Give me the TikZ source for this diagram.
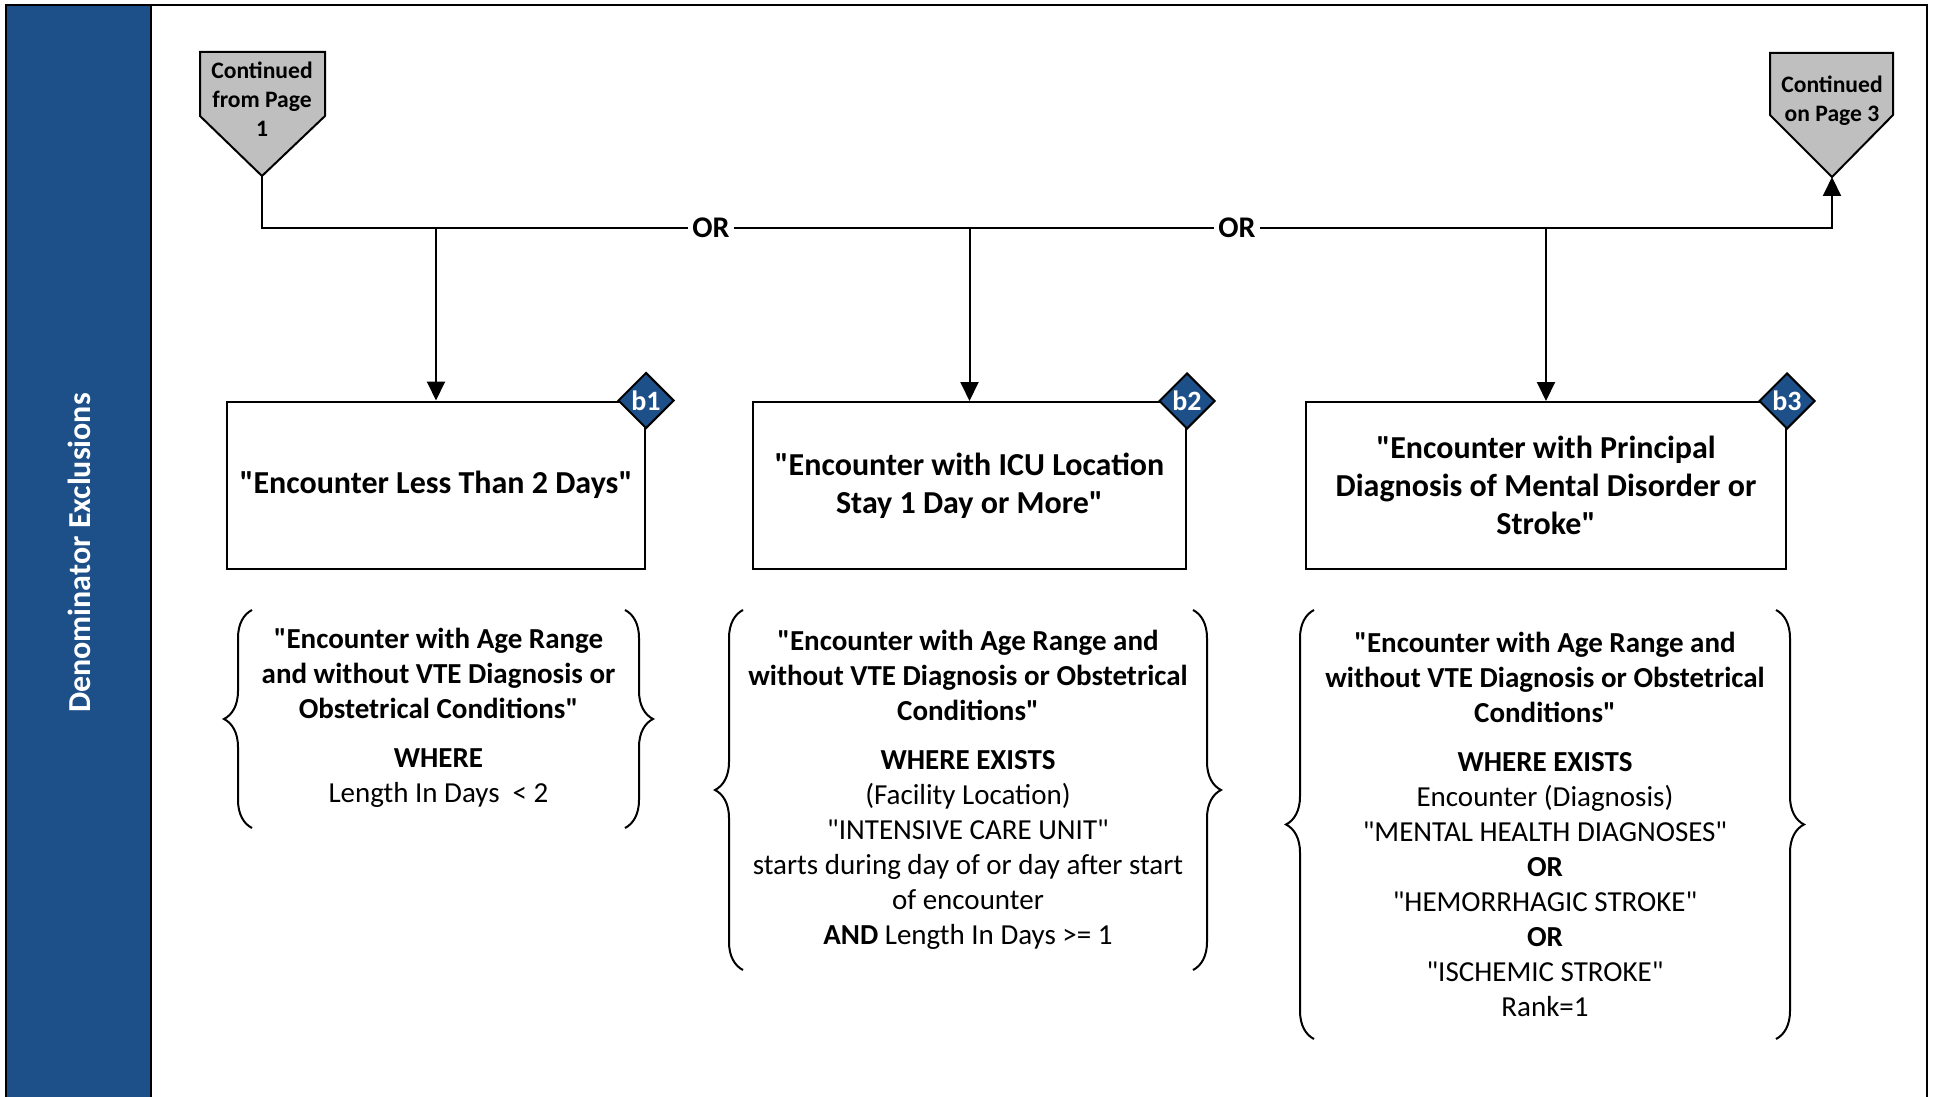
\documentclass[tikz,border=0pt]{standalone}
\usepackage{fontspec}
\setmainfont{Carlito}[Ligatures=TeXOff]
\usetikzlibrary{shapes.geometric, arrows.meta, decorations.pathreplacing, positioning}
\definecolor{bandblue}{RGB}{29,79,137}
\definecolor{pagegray}{RGB}{191,191,191}

\begin{document}
\begin{tikzpicture}[x=0.5pt, y=-0.5pt, line width=1pt,
  box/.style={draw, rectangle, align=center, minimum height=83.5pt, font=\fontsize{16}{19}\selectfont\bfseries},
  tag/.style={draw, diamond, fill=bandblue, text=white, inner sep=0pt, minimum width=28pt, minimum height=28pt, font=\fontsize{14}{14}\selectfont\bfseries},
  crit/.style={align=center, font=\fontsize{14.5}{17.5}\selectfont},
  pagetext/.style={align=center, font=\fontsize{11.8}{14.5}\selectfont\bfseries},
  orlabel/.style={fill=white, inner sep=1.5pt, font=\fontsize{15}{18}\selectfont\bfseries},
  arrow/.style={-{Triangle[length=9.5pt, width=9pt]}},
  curly/.style={decorate, decoration={brace, amplitude=14pt}}]
  \useasboundingbox (0,0) rectangle (1935,1097);

  % side band and frame
  \fill[bandblue] (6,5) rectangle (151,1100);
  \draw (6,1100) -- (6,5) -- (1927,5) -- (1927,1100);
  \draw (151,5) -- (151,1100);
  \node[rotate=90, text=white, font=\fontsize{16}{19}\selectfont\bfseries] (title) at (79,553) {Denominator Exclusions};

  % off-page connectors
  \draw[fill=pagegray] (200,52) -- (325,52) -- (325,116) -- (262,176) -- (200,116) -- cycle;
  \coordinate (from1) at (262,176);
  \node[pagetext] (fromtext) at (262,99) {Continued\\from Page\\1};
  \draw[fill=pagegray] (1770,53) -- (1893,53) -- (1893,115) -- (1832,177) -- (1770,115) -- cycle;
  \coordinate (to3) at (1832,177);
  \node[pagetext] (totext) at (1832,101) {Continued\\on Page 3};

  % exclusion boxes
  \node[box, minimum width=209pt] (enc1) at (436,485) {"Encounter Less Than 2 Days"};
  \node[box, minimum width=216.5pt] (enc2) at (969.5,485.5) {"Encounter with ICU Location\\Stay 1 Day or More"};
  \node[box, minimum width=240pt] (enc3) at (1546,485.5) {"Encounter with Principal\\Diagnosis of Mental Disorder or\\Stroke"};
  \node[tag] (tag1) at (enc1.north east) {b1};
  \node[tag] (tag2) at (enc2.north east) {b2};
  \node[tag] (tag3) at (enc3.north east) {b3};

  % OR bus
  \node[orlabel] (or1) at (711,228) {OR};
  \node[orlabel] (or2) at (1237,228) {OR};
  \draw (from1) |- (or1);
  \draw (or1) -- (or2);
  \draw[arrow] (or2) -| (to3);
  \draw[arrow] (enc1.north |- or1) -- (enc1.north);
  \draw[arrow] (enc2.north |- or1) -- (enc2.north);
  \draw[arrow] (enc3.north |- or1) -- (enc3.north);

  % criteria
  \node[crit] (cond1) at (438.5,718) {\textbf{"Encounter with Age Range}\\\textbf{and without VTE Diagnosis or}\\\textbf{Obstetrical Conditions"}\\[7pt]\textbf{WHERE}\\Length In Days\ \ < 2};
  \draw[curly] (252,828) -- (252,610);
  \draw[curly] (625,610) -- (625,828);

  \node[crit] (cond2) at (968,790) {\textbf{"Encounter with Age Range and}\\\textbf{without VTE Diagnosis or Obstetrical}\\\textbf{Conditions"}\\[7pt]\textbf{WHERE EXISTS}\\(Facility Location)\\"INTENSIVE CARE UNIT"\\starts during day of or day after start\\of encounter\\\textbf{AND} Length In Days >= 1};
  \draw[curly] (743,970) -- (743,610);
  \draw[curly] (1193,610) -- (1193,970);

  \node[crit] (cond3) at (1545,824) {\textbf{"Encounter with Age Range and}\\\textbf{without VTE Diagnosis or Obstetrical}\\\textbf{Conditions"}\\[7pt]\textbf{WHERE EXISTS}\\Encounter (Diagnosis)\\"MENTAL HEALTH DIAGNOSES"\\\textbf{OR}\\"HEMORRHAGIC STROKE"\\\textbf{OR}\\"ISCHEMIC STROKE"\\Rank=1};
  \draw[curly] (1314,1039) -- (1314,610);
  \draw[curly] (1776,610) -- (1776,1039);
\end{tikzpicture}
\end{document}
